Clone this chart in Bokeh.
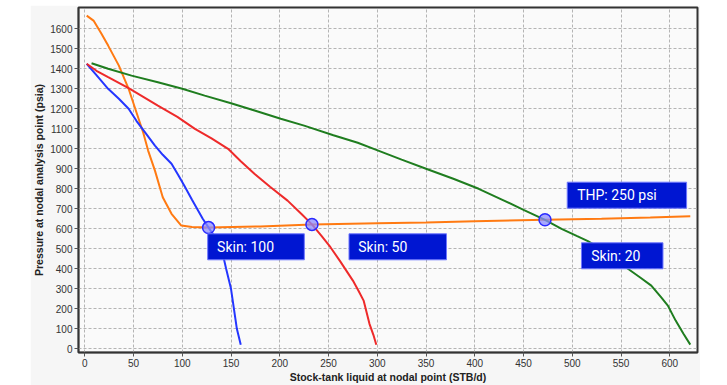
from bokeh.plotting import figure
from bokeh.models import Range1d, SingleIntervalTicker, FixedTicker
from bokeh.core.properties import value
from bokeh.embed import file_html
from bokeh.resources import INLINE

# ---- data ----
skin100_q = [2, 12, 24, 35, 45, 53, 63, 72, 80, 89, 96, 102, 110, 121, 127, 134, 140, 145, 150, 153, 156, 158, 160]
skin100_p = [1425, 1368, 1300, 1250, 1200, 1140, 1075, 1016, 970, 925, 868, 816, 745, 650, 606, 555, 508, 400, 300, 200, 100, 60, 20]

skin50_q = [2, 12, 24, 45, 60, 75, 95, 113, 130, 147, 160, 174, 190, 208, 222, 233, 243, 252, 262, 275, 281, 286, 292, 296, 299]
skin50_p = [1425, 1390, 1358, 1303, 1260, 1216, 1160, 1100, 1052, 1000, 938, 875, 810, 741, 675, 622, 563, 508, 437, 341, 288, 241, 125, 70, 20]

skin20_q = [7, 24, 48, 75, 100, 123, 150, 175, 201, 225, 255, 280, 301, 325, 350, 378, 404, 430, 450, 472, 489, 505, 516, 540, 557, 570, 581, 591, 598, 606, 614, 621]
skin20_p = [1428, 1400, 1366, 1333, 1300, 1266, 1228, 1190, 1150, 1116, 1068, 1030, 991, 946, 900, 850, 800, 741, 695, 645, 600, 563, 538, 470, 400, 355, 316, 258, 216, 141, 75, 21]

thp_q = [2, 9, 17, 24, 35, 45, 53, 60, 65, 72, 80, 89, 99, 110, 127, 180, 233, 300, 350, 400, 472, 530, 580, 621]
thp_p = [1666, 1641, 1577, 1516, 1416, 1300, 1183, 1080, 991, 891, 758, 675, 616, 609, 606, 612, 622, 628, 632, 638, 645, 650, 656, 663]

op_q = [127, 233, 472]
op_p = [606, 622, 645]

y_ticks = [0, 100, 200, 300, 400, 500, 600, 700, 800, 900, 1000, 1100, 1200, 1300, 1400, 1500, 1600]

label_texts = ["Skin: 100", "Skin: 50", "THP: 250 psi", "Skin: 20"]

# ---- figure ----
p = figure(width=670, height=380, output_backend="svg", toolbar_location=None,
           x_range=Range1d(-6.4, 628.4), y_range=Range1d(-18.5, 1706.5),
           min_border_left=43, min_border_right=3, min_border_top=2, min_border_bottom=33,
           background_fill_color="#fafafa", border_fill_color="#f6f6f6",
           outline_line_color="#333333", outline_line_width=2)
p.margin = (5, 0, 0, 30)

p.xaxis.ticker = SingleIntervalTicker(interval=50)
p.yaxis.ticker = FixedTicker(ticks=y_ticks)
p.xaxis.minor_tick_line_color = None
p.yaxis.minor_tick_line_color = None
for ax in (p.xaxis[0], p.yaxis[0]):
    ax.major_tick_out = 4
    ax.major_tick_in = 0
    ax.major_tick_line_color = "#555555"
    ax.axis_line_color = "#333333"
    ax.axis_line_width = 1.5
    ax.major_label_text_font = "Liberation Sans"
    ax.major_label_text_font_size = "10px"
    ax.major_label_text_color = "#333333"
    ax.axis_label_text_font = "Liberation Sans"
    ax.axis_label_text_font_size = "10.5px"
    ax.axis_label_text_font_style = "bold"
    ax.axis_label_text_color = "#222222"
p.xaxis.major_label_standoff = 2
p.yaxis.major_label_standoff = 2
p.xaxis.axis_label_standoff = 1
p.yaxis.axis_label_standoff = 2
p.xaxis.axis_label = "Stock-tank liquid at nodal point (STB/d)"
p.yaxis.axis_label = "Pressure at nodal analysis point (psia)"

p.grid.grid_line_color = "#b4b4b4"
p.grid.grid_line_dash = "3 2"
p.grid.grid_line_width = 1

p.line(thp_q, thp_p, line_color="#ff7a12", line_width=2)
p.line(skin100_q, skin100_p, line_color="#2436ff", line_width=2)
p.line(skin50_q, skin50_p, line_color="#ee2a2a", line_width=2)
p.line(skin20_q, skin20_p, line_color="#1f7d1f", line_width=2)

p.scatter(op_q, op_p, size=12, fill_color="#8c8cff", fill_alpha=0.75,
          line_color="#2a2aff", line_width=1.5)

# label boxes (left, right, top, bottom in data units) and text anchors
box_l = [126.1, 271.0, 494.8, 509.4]
box_r = [225.2, 371.0, 617.2, 593.0]
box_t = [575, 575, 833, 530]
box_b = [445, 445, 703, 400]
txt_x = [135.7, 280.4, 505.0, 519.5]
txt_y = [(t + b) / 2 for t, b in zip(box_t, box_b)]

p.quad(left=box_l, right=box_r, top=box_t, bottom=box_b,
       fill_color="#0016d2", line_color="#6f78ff", line_width=1)
p.text(x=txt_x, y=txt_y, text=label_texts, text_color="white",
       text_font=value("Roboto"), text_font_size="14px",
       text_baseline="middle", text_align="left")

open("out.html", "w").write(file_html(p, INLINE))
